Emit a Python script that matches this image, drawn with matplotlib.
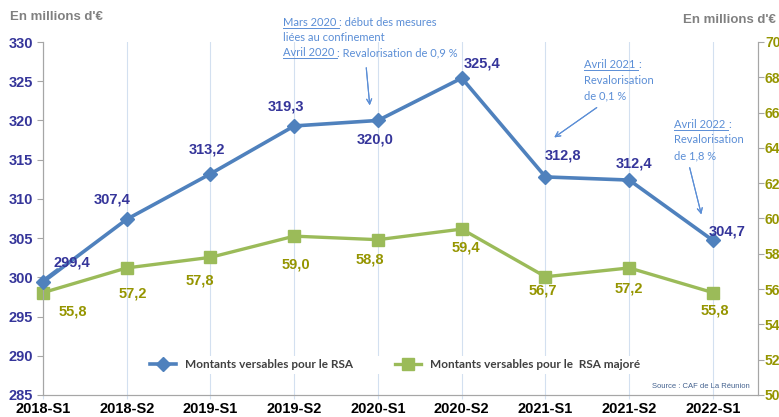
import matplotlib
matplotlib.use("Agg")
import matplotlib.pyplot as plt
from matplotlib.lines import Line2D

# ---------------------------------------------------------------
# data
# ---------------------------------------------------------------
periods = ["2018-S1", "2018-S2", "2019-S1", "2019-S2", "2020-S1",
           "2020-S2", "2021-S1", "2021-S2", "2022-S1"]
rsa = [299.4, 307.4, 313.2, 319.3, 320.0, 325.4, 312.8, 312.4, 304.7]
rsa_majore = [55.8, 57.2, 57.8, 59.0, 58.8, 59.4, 56.7, 57.2, 55.8]

rsa_label = "Montants versables pour le RSA"
maj_label = "Montants versables pour le  RSA majoré"
unit_label = "En millions d'€"
source = "Source : CAF de La Réunion"

notes = [
    [[("Mars 2020 ", True), (": début des mesures", False)],
     [("liées au confinement", False)],
     [("Avril 2020 ", True), (": Revalorisation de 0,9 %", False)]],
    [[("Avril 2021 ", True), (":", False)],
     [("Revalorisation", False)],
     [("de 0,1 %", False)]],
    [[("Avril 2022 ", True), (":", False)],
     [("Revalorisation", False)],
     [("de 1,8 %", False)]],
]

# ---------------------------------------------------------------
# styles
# ---------------------------------------------------------------
W, H = 779, 417
BLUE = "#4F81BD"
GREEN = "#9BBB59"
NAVY = "#35359A"
OLIVE = "#959500"
NOTE = "#5B8ED6"
GRID = "#D3E0F0"
SPINE = "#A6A6A6"

plt.rcParams["font.family"] = ["Liberation Sans", "DejaVu Sans"]

fig = plt.figure(figsize=(W / 100, H / 100), dpi=100)
ax = fig.add_axes([43 / W, 1 - 395 / H, (758 - 43) / W, (395 - 42) / H])
ax2 = ax.twinx()

x = list(range(len(periods)))

# vertical grid
for xi in x:
    ax2.axvline(xi, color=GRID, lw=0.8, zorder=0)

ax.plot(x, rsa, color=BLUE, lw=2.6, marker="D", ms=7, zorder=3,
        label=rsa_label, clip_on=False)
ax2.plot(x, rsa_majore, color=GREEN, lw=2.4, marker="s", ms=8.5, zorder=3,
         label=maj_label, clip_on=False)

ax.set_xlim(0, 8 + 45 / 83.75)
ax.set_ylim(285, 330)
ax.set_yticks(range(285, 331, 5))
ax2.set_ylim(50, 70)
ax2.set_yticks(range(50, 71, 2))

ax.set_xticks(x)
ax.set_xticklabels(periods, fontsize=10.5, fontweight="bold", color="black")
ax.tick_params(axis="x", length=3, color=GRID, pad=2)
ax.tick_params(axis="y", length=4, color=SPINE, labelsize=10.5,
               labelcolor=NAVY, pad=3)
ax2.tick_params(axis="y", length=4, color=SPINE, labelsize=10,
                labelcolor=OLIVE, pad=1)
for lab in ax.get_yticklabels() + ax2.get_yticklabels():
    lab.set_fontweight("bold")

for a in (ax, ax2):
    a.spines["top"].set_visible(False)
    a.spines["left"].set_color(SPINE)
    a.spines["right"].set_color(SPINE)
    a.spines["bottom"].set_color(SPINE)
ax.set_zorder(ax2.get_zorder() + 1)
ax.patch.set_visible(False)

# data labels (pixel offsets, y downwards)
rsa_off = [(29, -20), (-15, -20), (-4, -24), (-8, -19), (-3, 19),
           (20, -15), (17, -21), (5, -17), (14, -9)]
maj_off = [(30, 19), (6, 26), (-11, 23), (2, 28), (-8, 20),
           (4, 18), (-3, 14), (0, 21), (2, 18)]

for i, v in enumerate(rsa):
    dx, dy = rsa_off[i]
    ax.annotate(f"{v:.1f}".replace(".", ","), (i, v),
                xytext=(dx * 0.72, -dy * 0.72), textcoords="offset points",
                ha="center", va="center", fontsize=10.5, fontweight="bold",
                color=NAVY, zorder=5)
for i, v in enumerate(rsa_majore):
    dx, dy = maj_off[i]
    ax2.annotate(f"{v:.1f}".replace(".", ","), (i, v),
                 xytext=(dx * 0.72, -dy * 0.72), textcoords="offset points",
                 ha="center", va="center", fontsize=10.5, fontweight="bold",
                 color=OLIVE, zorder=5)

# small leader for the first label
fig.add_artist(Line2D([45 / W, 57 / W], [1 - 279 / H, 1 - 270 / H],
                      color=BLUE, lw=2.2, transform=fig.transFigure))

# legend
h1, l1 = ax.get_legend_handles_labels()
h2, l2 = ax2.get_legend_handles_labels()
leg = ax.legend(h1 + h2, l1 + l2, loc="center", ncol=2,
                bbox_to_anchor=((395 - 43) / (758 - 43), (395 - 365) / (395 - 42)),
                frameon=True, fancybox=False, edgecolor="none",
                facecolor="white", framealpha=1, handlelength=2.2,
                columnspacing=3.5, borderpad=0.3,
                prop={"family": "Lato", "weight": "bold", "size": 8.5})
for t in leg.get_texts():
    t.set_color("#404040")

# unit labels and source
fig.text(10 / W, 1 - 17 / H, unit_label, fontsize=9.5, fontweight="bold",
         color="#808080", va="center", ha="left")
fig.text(776 / W, 1 - 20 / H, unit_label, fontsize=9.5, fontweight="bold",
         color="#808080", va="center", ha="right")
fig.text(750 / W, 1 - 387 / H, source, fontsize=5.5, color="#44628F",
         va="center", ha="right")

# notes with underlined parts
renderer = fig.canvas.get_renderer()


def add_note(x0, baselines, lines):
    for yb, parts in zip(baselines, lines):
        cx = x0
        for txt, ul in parts:
            t = fig.text(cx / W, 1 - yb / H, txt, fontsize=8, color=NOTE,
                         family="Lato", va="baseline", ha="left")
            bb = t.get_window_extent(renderer)
            if ul:
                fig.add_artist(Line2D([bb.x0 / W, bb.x1 / W],
                                      [1 - (yb + 1.5) / H] * 2,
                                      color=NOTE, lw=0.7,
                                      transform=fig.transFigure))
            cx = bb.x1


add_note(283, [26, 41, 56], notes[0])
add_note(584, [68, 84, 99], notes[1])
add_note(674, [128, 143, 159], notes[2])

arrows = [((366, 65), (370, 108)), ((599, 106), (552, 139)),
          ((689, 165), (702, 217))]
for (xs, ys), (xe, ye) in arrows:
    fig.add_artist(plt.annotate("", xy=(xe, H - ye), xytext=(xs, H - ys),
                                xycoords="figure pixels",
                                textcoords="figure pixels",
                                arrowprops=dict(arrowstyle="->", color=NOTE,
                                                lw=0.8, mutation_scale=9)))

fig.savefig("out.png", dpi=100)
